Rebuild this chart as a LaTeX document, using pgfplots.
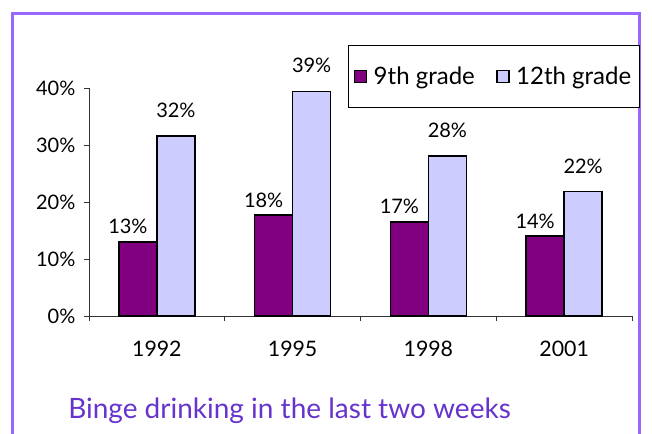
\documentclass[border=0pt]{standalone}
\usepackage{fontspec}
\setmainfont{Lato}
\usepackage{pgfplots}
\pgfplotsset{compat=1.18}
\definecolor{ninth}{HTML}{800080}
\definecolor{twelfth}{HTML}{CCCCFF}
\definecolor{framec}{HTML}{9966FF}
\definecolor{titlec}{HTML}{6633CC}
\begin{document}
\begin{tikzpicture}
\path[use as bounding box] (0pt,0pt) rectangle (489pt,-324.75pt);
\begin{scope}
\clip (0pt,0pt) rectangle (489pt,-324.75pt);
\draw[framec, line width=2.2pt] (9.5pt,-10pt) rectangle (479.5pt,-345pt);
\end{scope}
\begin{axis}[
  at={(66.75pt,-237pt)}, anchor=south west,
  scale only axis, width=407.25pt, height=171pt,
  xmin=-0.5, xmax=3.5, ymin=0, ymax=40,
  axis x line*=bottom, axis y line*=left,
  axis line style={-, line width=0.6pt, black!80},
  tick align=outside, major tick length=3.75pt,
  tick style={line width=0.6pt, black!80},
  /pgf/number format/assume math mode=true,
  ytick={0,10,20,30,40},
  yticklabel={\pgfmathprintnumber{\tick}\%},
  y tick label style={font=\fontsize{15}{17}\selectfont, xshift=-3pt},
  xtick={-0.5,0.5,1.5,2.5,3.5}, xticklabels={},
  extra x ticks={0,1,2,3},
  extra x tick labels={1992,1995,1998,2001},
  extra x tick style={major tick length=0pt, tick label style={font=\fontsize{16}{19}\selectfont, yshift=-15pt}},
  ybar=0pt, bar width=28.5pt,
  nodes near coords={\pgfmathprintnumber[fixed,precision=0]{\pgfplotspointmeta}\%},
  nodes near coords style={font=\fontsize{15}{17}\selectfont, text=black},
  legend columns=2,
  legend style={at={(0.477,1.189)}, anchor=north west, draw=black, line width=0.6pt,
    font=\fontsize{18}{21}\selectfont, inner xsep=4pt, inner ysep=14pt,
    /tikz/every odd column/.append style={column sep=3pt},
    /tikz/every even column/.append style={column sep=14pt}},
  legend image code/.code={\draw[#1, line width=1pt] (0pt,-4.5pt) rectangle (9pt,4.5pt);},
  clip=false,
]
\addplot[fill=ninth, draw=black, line width=1.1pt,
  every node near coord/.append style={xshift=-7.5pt, yshift=2pt}]
  coordinates {(0,13.0) (1,17.7) (2,16.5) (3,14.0)};
\addplot[fill=twelfth, draw=black, line width=1.1pt,
  every node near coord/.append style={yshift=10pt}]
  coordinates {(0,31.6) (1,39.4) (2,28.1) (3,21.8)};
\legend{9th grade, 12th grade}
\end{axis}
\node[anchor=base west, text=titlec, font=\fontsize{21}{25}\selectfont, inner sep=0pt] at (51pt,-313.5pt) {Binge drinking in the last two weeks};
\end{tikzpicture}
\end{document}
